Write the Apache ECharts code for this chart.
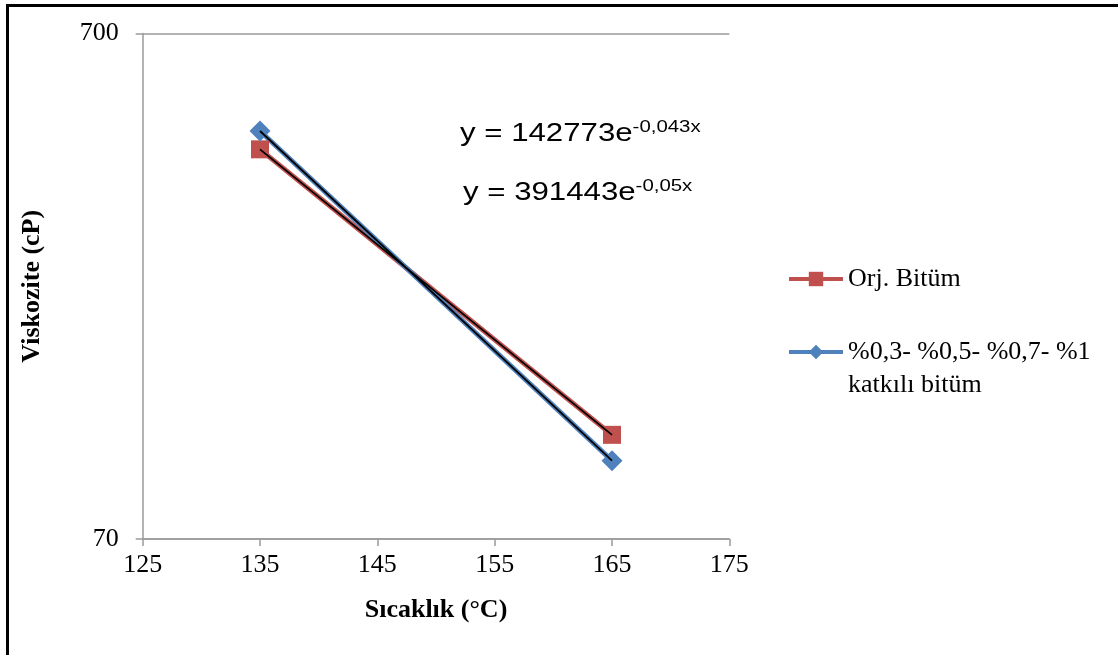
<!DOCTYPE html>
<html>
<head>
<meta charset="utf-8">
<script src="https://cdn.jsdelivr.net/npm/echarts@6/dist/echarts.min.js"></script>
<style>html,body{margin:0;padding:0;background:#fff;}#c{width:1118px;height:655px;}</style>
</head>
<body>
<div id="c"></div>
<script>
// Data
const temperatures = [135, 165];
const orjBitum = [413, 112.5];
const katkiliBitum = [449, 100];
const seriesNames = ['Orj. Bitüm', '%0,3- %0,5- %0,7- %1\nkatkılı bitüm'];
const xTicks = { min: 125, max: 175, interval: 10 };
const yTickValues = [70, 700];
const equations = [
  { main: 'y = 142773e', sup: '-0,043x' },
  { main: 'y = 391443e', sup: '-0,05x' }
];
const xTitle = 'Sıcaklık (°C)';
const yTitle = 'Viskozite (cP)';

const serif = '"Liberation Serif", "Times New Roman", serif';
const sans = '"Liberation Sans", Arial, sans-serif';
const RED = '#C0504D', BLUE = '#4F81BD', AXIS = '#9a9a9a';

const pairs = (xs, ys) => xs.map((x, i) => [x, ys[i]]);

const eqRich = {
  m: { fontFamily: sans, fontSize: 26, lineHeight: 28, fill: '#000', verticalAlign: 'bottom' },
  s: { fontFamily: sans, fontSize: 17, lineHeight: 17, fill: '#000', verticalAlign: 'top' }
};

const chart = echarts.init(document.getElementById('c'), null, { renderer: 'canvas' });
chart.setOption({
  animation: false,
  backgroundColor: '#fff',
  grid: { left: 142.7, right: 388.7, top: 33.5, bottom: 116, outerBoundsMode: 'none' },
  xAxis: {
    type: 'value', min: xTicks.min, max: xTicks.max, interval: xTicks.interval,
    name: xTitle, nameLocation: 'middle', nameGap: 58,
    nameTextStyle: { fontFamily: serif, fontWeight: 'bold', fontSize: 26, color: '#000' },
    axisLine: { show: true, lineStyle: { color: AXIS, width: 1.5 } },
    axisTick: { show: true, length: 7, lineStyle: { color: AXIS, width: 1.5 } },
    axisLabel: { fontFamily: serif, fontSize: 26, color: '#000', margin: 13 },
    splitLine: { show: false }
  },
  yAxis: {
    type: 'log', logBase: 10, min: 70, max: 700,
    name: yTitle, nameLocation: 'middle', nameGap: 97,
    nameTextStyle: { fontFamily: serif, fontWeight: 'bold', fontSize: 26, color: '#000' },
    axisLine: { show: true, lineStyle: { color: AXIS, width: 1.5 } },
    axisTick: { show: true, length: 7, customValues: yTickValues, lineStyle: { color: AXIS, width: 1.5 } },
    axisLabel: { fontFamily: serif, fontSize: 26, color: '#000', margin: 24, customValues: yTickValues },
    splitLine: { show: true, lineStyle: { color: AXIS, width: 1.5 } }
  },
  legend: [
    {
      left: 787, top: 262.5, padding: 0, itemWidth: 54, itemHeight: 18, itemGap: 0,
      lineStyle: { width: 4 },
      data: [seriesNames[0]],
      textStyle: { fontFamily: serif, fontSize: 26, color: '#000', lineHeight: 33 }
    },
    {
      left: 787, top: 302.5, padding: 0, itemWidth: 54, itemHeight: 18, itemGap: 0,
      lineStyle: { width: 4 },
      data: [seriesNames[1]],
      formatter: name => '\n' + name,
      textStyle: { fontFamily: serif, fontSize: 26, color: '#000', lineHeight: 33 }
    }
  ],
  series: [
    {
      name: seriesNames[0], type: 'line', data: pairs(temperatures, orjBitum),
      symbol: 'rect', symbolSize: 18, lineStyle: { color: RED, width: 5 },
      itemStyle: { color: RED }, z: 2
    },
    {
      name: seriesNames[1], type: 'line', data: pairs(temperatures, katkiliBitum),
      symbol: 'diamond', symbolSize: 21, lineStyle: { color: BLUE, width: 5 },
      itemStyle: { color: BLUE }, z: 2
    },
    {
      name: 'trend1', type: 'line', data: pairs(temperatures, orjBitum),
      symbol: 'none', lineStyle: { color: '#000', width: 1.8 }, z: 5, silent: true
    },
    {
      name: 'trend2', type: 'line', data: pairs(temperatures, katkiliBitum),
      symbol: 'none', lineStyle: { color: '#000', width: 1.8 }, z: 5, silent: true
    }
  ],
  graphic: [
    { type: 'line', shape: { x1: 7.5, y1: 5.5, x2: 1118, y2: 5.5 }, style: { stroke: '#000', lineWidth: 3 } },
    { type: 'line', shape: { x1: 7.5, y1: 4, x2: 7.5, y2: 655 }, style: { stroke: '#000', lineWidth: 3 } },
    {
      type: 'text', left: 460, top: 119, scaleX: 1.2,
      style: { text: '{m|' + equations[0].main + '}{s|' + equations[0].sup + '}', rich: eqRich }
    },
    {
      type: 'text', left: 463, top: 178, scaleX: 1.2,
      style: { text: '{m|' + equations[1].main + '}{s|' + equations[1].sup + '}', rich: eqRich }
    }
  ]
});
</script>
</body>
</html>
